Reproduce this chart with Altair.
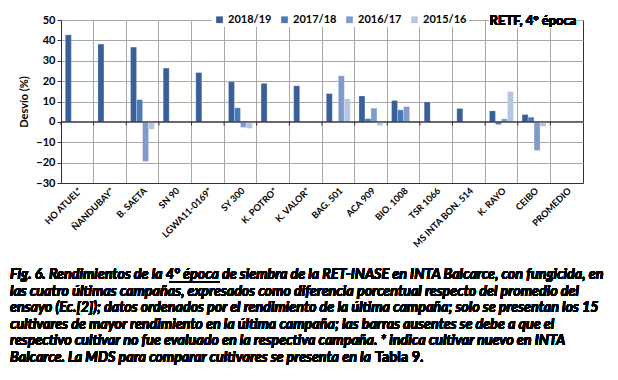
import altair as alt
import pandas as pd

categories = ["HO ATUEL*", "ÑANDUBAY*", "B. SAETA", "SN 90", "LGWA11-0169*", "SY 300",
              "K. POTRO*", "K. VALOR*", "BAG. 501", "ACA 909", "BIO. 1008", "TSR 1066",
              "MS INTA BON. 514", "K. RAYO", "CEIBO", "PROMEDIO"]
series = ["2018/19", "2017/18", "2016/17", "2015/16"]
colors = ["#3A5F98", "#4A78B8", "#7F9ACB", "#B5C6E2"]

v2018 = [42.7, 38.2, 36.7, 26.4, 24.2, 19.7, 18.9, 17.7, 13.9, 12.7, 10.5, 9.8, 6.6, 5.4, 3.6, 0]
v2017 = [None, None, 10.9, None, None, 6.9, None, None, None, 1.6, 5.9, None, None, -1.3, 2.3, 0]
v2016 = [None, None, -19.4, None, None, -2.7, None, None, 22.6, 6.7, 7.5, None, None, 1.5, -14.0, 0]
v2015 = [None, None, -3.6, None, None, -3.2, None, None, 11.3, -1.8, None, None, None, 14.9, -2.2, 0]
y_ticks = [-30, -20, -10, 0, 10, 20, 30, 40, 50]

caption_lines = [
    "Fig. 6. Rendimientos de la 4° época de siembra de la RET-INASE en INTA Balcarce, con fungicida, en",
    "las cuatro últimas campañas, expresados como diferencia porcentual respecto del promedio del",
    "ensayo (Ec.[2]); datos ordenados por el rendimiento de la última campaña; solo se presentan los 15",
    "cultivares de mayor rendimiento en la última campaña; las barras ausentes se debe a que el",
    "respectivo cultivar no fue evaluado en la respectiva campaña. * indica cultivar nuevo en INTA",
    "Balcarce. La MDS para comparar cultivares se presenta en la",
]
caption_tail = "Tabla 9."
chart_title = "RETF, 4° época"
y_title = "Desvío (%)"

rows = []
for s, vals in zip(series, [v2018, v2017, v2016, v2015]):
    for c, v in zip(categories, vals):
        if v is not None:
            rows.append({"cat": c, "series": s, "value": v})
df = pd.DataFrame(rows)
cat_df = pd.DataFrame({"cat": categories})
zero_df = pd.DataFrame({"value": [0]})
tick_df = pd.DataFrame({"cat": categories, "value": [0] * len(categories),
                        "value2": [-1.8] * len(categories)})

FONT = "Lato"
CAP = 14.3
LH = 16.6
GRID = "#A8A8A8"
DARK = "#333333"

x_axis = alt.Axis(labelAngle=-45, labelFont=FONT, labelFontWeight="bold",
                  labelFontSize=9.2, labelColor="#000", grid=True, gridColor=GRID,
                  gridWidth=1, gridOpacity=1, bandPosition=0, ticks=False,
                  domainColor=DARK, labelPadding=3, labelOverlap=False)
y_axis = alt.Axis(values=y_ticks, labelFont=FONT, grid=True, gridColor=GRID,
                  gridWidth=1, gridOpacity=1,
                  labelFontWeight="bold", labelFontSize=11, labelColor="#000",
                  domainColor=DARK, tickColor=DARK, labelOverlap=False,
                  tickSize=4, titleFont=FONT, titleFontWeight="bold",
                  titleFontSize=11, titleColor="#000", titlePadding=6)
x_scale = alt.Scale(paddingInner=0, paddingOuter=0)
y_scale = alt.Scale(domain=[-30, 50], nice=False, zero=False)
legend = alt.Legend(title=None, orient="none", legendX=151, legendY=-8,
                    direction="horizontal", symbolType="square",
                    symbolSize=45, symbolStrokeWidth=0,
                    labelFont=FONT, labelFontWeight="bold",
                    labelFontSize=11, labelColor="#000",
                    fillColor="white", padding=2, columnPadding=7,
                    labelOffset=3)


def xe(band=None):
    if band is None:
        return alt.X("cat:N", sort=categories, title=None, scale=x_scale, axis=x_axis)
    return alt.X("cat:N", sort=categories, title=None, scale=x_scale, axis=x_axis,
                 bandPosition=band)


def ye():
    return alt.Y("value:Q", title=y_title, scale=y_scale, axis=y_axis)


bars = alt.Chart(df).mark_bar(stroke="#ffffff", strokeWidth=0.4, strokeOpacity=0.6).encode(
    x=xe(),
    xOffset=alt.XOffset("series:N", sort=series,
                        scale=alt.Scale(domain=series, paddingInner=0, paddingOuter=0.72)),
    y=ye(),
    color=alt.Color("series:N", sort=series,
                    scale=alt.Scale(domain=series, range=colors), legend=legend),
)

zero = alt.Chart(zero_df).mark_rule(color=DARK, strokeWidth=1.2).encode(y=ye())
ticks = alt.Chart(tick_df).mark_rule(color=DARK, strokeWidth=1).encode(
    x=xe(0), y=ye(), y2=alt.Y2("value2:Q"))

title_bg = alt.Chart(cat_df).mark_rect(color="white").encode(
    x=alt.value(428), x2=alt.value(516), y=alt.value(-8), y2=alt.value(8))
title_txt = alt.Chart(cat_df).mark_text(font=FONT, fontWeight="bold", fontSize=13,
                                        color="#000", align="center", baseline="middle").encode(
    x=alt.value(472), y=alt.value(1), text=alt.value(chart_title))

caption = alt.Chart(cat_df).mark_text(font=FONT, fontWeight="bold", fontStyle="italic",
                                      fontSize=CAP, color="#000", align="left",
                                      baseline="middle", lineHeight=LH).encode(
    x=alt.value(-51), y=alt.value(255), text=alt.value(caption_lines))
caption2 = alt.Chart(cat_df).mark_text(font=FONT, fontWeight="bold",
                                       fontSize=CAP, color="#000", align="left",
                                       baseline="middle").encode(
    x=alt.value(314), y=alt.value(255 + 5 * LH), text=alt.value(caption_tail))
underline = alt.Chart(cat_df).mark_rule(color="#000", strokeWidth=1).encode(
    x=alt.value(108), x2=alt.value(159), y=alt.value(262))

chart = alt.layer(bars, zero, ticks, title_bg, title_txt,
                  caption, caption2, underline).properties(
    width=522, height=163,
    background="white",
    autosize=alt.AutoSizeParams(type="none"),
    padding={"left": 53, "top": 12, "right": 27, "bottom": 185},
).configure_view(stroke=DARK, strokeWidth=1)

chart.save("out.html", embed_options={"renderer": "svg", "actions": False})
